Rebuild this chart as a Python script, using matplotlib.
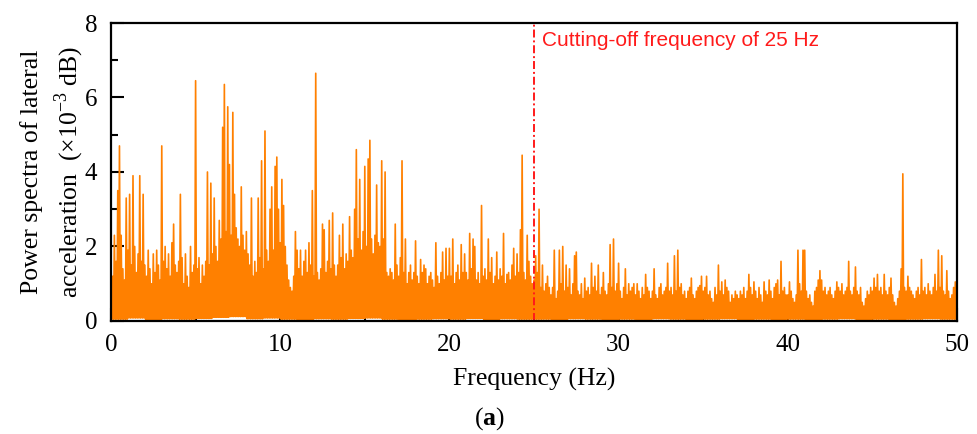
import numpy as np
import matplotlib.pyplot as plt

plt.rcParams['font.family'] = ['Liberation Serif', 'DejaVu Serif']
plt.rcParams['mathtext.fontset'] = 'custom'
plt.rcParams['mathtext.rm'] = 'Liberation Serif'
plt.rcParams['mathtext.bf'] = 'Liberation Serif:bold'

# peak power in each 0.1 Hz bin (x1e-3 dB), one row per Hz
psd_peaks = [
    [1.7, 1.2, 2.3, 1.6, 3.5, 4.7, 2.3, 1.4, 1.1, 3.3],     # 0 Hz
    [1.9, 3.4, 1.5, 3.9, 2.0, 1.3, 1.8, 3.9, 1.6, 3.4],
    [1.5, 1.2, 1.9, 1.4, 1.0, 1.8, 1.3, 1.9, 1.5, 1.1],
    [4.7, 1.6, 2.0, 1.4, 1.8, 1.2, 2.1, 2.6, 1.5, 1.3],
    [1.6, 3.4, 1.7, 1.0, 1.8, 1.2, 0.9, 2.0, 1.3, 1.5],
    [6.45, 1.4, 1.7, 1.0, 1.5, 1.2, 1.6, 4.0, 1.5, 3.7],    # 5 Hz
    [1.8, 3.3, 2.0, 1.6, 2.7, 2.2, 5.2, 6.35, 2.4, 5.75],
    [4.2, 2.3, 5.6, 3.4, 2.5, 2.2, 2.0, 3.6, 2.3, 1.9],
    [2.4, 1.8, 1.5, 3.3, 1.2, 1.6, 1.3, 3.3, 1.7, 4.3],
    [1.4, 5.1, 1.9, 1.6, 3.0, 3.6, 1.9, 4.15, 4.4, 3.0],
    [2.1, 3.8, 3.1, 2.0, 1.5, 1.1, 0.9, 0.8, 1.2, 2.4],     # 10 Hz
    [1.9, 1.4, 1.9, 1.2, 1.6, 1.9, 1.3, 2.1, 1.5, 3.5],
    [1.2, 6.65, 1.3, 1.1, 1.4, 2.6, 2.45, 1.3, 1.6, 2.7],
    [1.4, 2.9, 1.5, 1.2, 1.5, 2.3, 1.7, 2.6, 1.4, 1.8],
    [1.6, 2.8, 1.9, 1.7, 3.0, 4.6, 2.2, 3.8, 1.9, 2.4],
    [4.15, 2.0, 4.35, 4.85, 2.2, 1.8, 2.3, 3.65, 2.1, 2.0],  # 15 Hz
    [4.3, 2.2, 4.0, 1.3, 1.2, 1.4, 1.3, 1.1, 2.6, 1.5],
    [1.2, 1.7, 4.3, 1.3, 2.2, 1.0, 1.3, 1.5, 1.1, 1.3],
    [2.15, 1.2, 1.0, 1.65, 1.3, 1.5, 1.4, 1.0, 1.2, 1.3],
    [1.1, 0.9, 2.1, 1.2, 1.0, 1.3, 1.85, 1.1, 1.95, 1.2],
    [1.95, 1.2, 2.2, 1.0, 1.3, 1.5, 1.1, 2.05, 1.3, 1.8],   # 20 Hz
    [1.3, 1.1, 2.35, 1.4, 2.2, 2.0, 1.1, 1.3, 1.0, 3.1],
    [1.2, 1.4, 1.1, 2.2, 1.3, 1.7, 1.0, 1.2, 1.85, 1.1],
    [1.4, 1.2, 2.35, 1.0, 1.25, 1.3, 1.1, 1.5, 1.95, 1.2],
    [1.8, 1.3, 2.45, 4.45, 1.3, 1.1, 2.3, 1.6, 1.2, 1.0],
    [1.1, 1.75, 1.3, 3.0, 0.9, 1.5, 0.8, 1.0, 1.2, 0.9],    # 25 Hz
    [0.7, 0.9, 1.9, 0.6, 0.8, 1.9, 1.0, 2.0, 0.8, 1.5],
    [0.9, 1.4, 0.7, 1.0, 1.75, 1.85, 0.8, 0.7, 1.0, 0.6],
    [1.15, 0.8, 0.9, 0.7, 1.55, 0.9, 1.2, 0.8, 1.5, 0.7],
    [0.9, 1.3, 0.8, 0.7, 1.0, 2.05, 0.9, 2.2, 0.8, 1.0],
    [1.55, 0.8, 0.6, 0.9, 1.4, 0.7, 1.0, 0.8, 0.9, 1.0],    # 30 Hz
    [0.7, 1.0, 0.8, 0.6, 0.9, 0.7, 1.25, 0.9, 0.8, 0.6],
    [0.8, 1.4, 0.7, 0.6, 0.9, 1.0, 0.7, 0.8, 0.9, 1.55],
    [0.8, 0.9, 0.7, 1.75, 0.8, 1.9, 0.9, 1.0, 0.7, 0.8],
    [0.6, 0.8, 0.9, 1.15, 0.7, 0.6, 0.8, 0.9, 0.95, 1.2],
    [0.8, 0.9, 1.2, 0.7, 0.8, 0.6, 0.5, 0.9, 0.7, 1.5],     # 35 Hz
    [0.8, 1.05, 0.7, 1.1, 0.9, 0.8, 0.5, 0.7, 0.6, 0.8],
    [0.7, 0.6, 0.8, 0.7, 0.9, 0.6, 0.8, 1.25, 0.9, 0.7],
    [1.05, 0.8, 0.6, 0.9, 0.7, 0.5, 1.05, 0.8, 0.7, 1.1],
    [0.8, 0.6, 0.9, 1.0, 1.1, 0.7, 1.6, 0.8, 0.9, 0.7],
    [0.7, 1.05, 0.8, 0.6, 0.5, 0.7, 1.9, 1.0, 0.8, 1.9],    # 40 Hz
    [1.9, 0.8, 0.6, 0.7, 0.5, 0.4, 0.8, 0.9, 1.1, 1.35],
    [1.1, 0.8, 0.9, 0.7, 0.8, 0.9, 0.7, 0.6, 0.8, 1.05],
    [0.9, 0.8, 1.0, 0.7, 0.8, 0.9, 1.6, 0.8, 0.7, 0.9],
    [1.45, 0.8, 0.7, 0.9, 0.5, 0.4, 0.6, 0.8, 0.7, 0.9],
    [0.8, 1.15, 0.9, 1.25, 0.8, 0.9, 0.7, 1.25, 0.8, 0.7],  # 45 Hz
    [0.9, 1.15, 0.7, 0.5, 0.4, 0.6, 0.8, 1.4, 3.95, 0.9],
    [0.8, 1.2, 0.9, 0.8, 0.7, 0.6, 0.8, 0.9, 0.7, 1.65],
    [0.8, 0.9, 0.7, 1.0, 0.8, 0.7, 0.9, 1.25, 0.8, 1.9],
    [0.9, 1.75, 0.8, 0.7, 1.35, 0.8, 0.6, 0.7, 0.9, 1.05],
]

# lowest level reached between neighbouring bins, one value per Hz
psd_troughs = [
    0.05, 0.08, 0.04, 0.06, 0.05, 0.07, 0.10, 0.12, 0.06, 0.08,
    0.05, 0.04, 0.06, 0.05, 0.07, 0.08, 0.05, 0.04, 0.05, 0.06,
    0.05, 0.07, 0.04, 0.06, 0.05, 0.05, 0.04, 0.06, 0.05, 0.04,
    0.05, 0.04, 0.06, 0.05, 0.04, 0.05, 0.06, 0.04, 0.05, 0.04,
    0.05, 0.04, 0.05, 0.06, 0.04, 0.05, 0.04, 0.05, 0.06, 0.05,
]

cutoff_hz = 25
bin_hz = 0.1

peaks = np.array(psd_peaks).ravel()
lows = np.repeat(psd_troughs, len(psd_peaks[0]))
f_bins = np.arange(peaks.size) * bin_hz

# interleave peaks and troughs so the trace swings like a raw spectrum
freq = np.empty(2 * peaks.size)
power = np.empty(2 * peaks.size)
freq[0::2] = f_bins
freq[1::2] = f_bins + bin_hz / 2
power[0::2] = peaks
power[1::2] = lows

fig = plt.figure(figsize=(9.78, 4.34), dpi=100)
ax = fig.add_axes([0.1135, 0.2604, 0.865, 0.6866])

ax.plot(freq, power, color='#ff8000', lw=1.2)
ax.axvline(cutoff_hz, color='#ff1a1a', lw=1.4, ls=(0, (4.1, 1.5, 1.0, 1.5)))
ax.text(cutoff_hz + 0.45, 7.37, 'Cutting-off frequency of %d Hz' % cutoff_hz,
        color='#ff1a1a', fontsize=15, family='Liberation Sans',
        ha='left', va='baseline')

ax.set_xlim(0, 50)
ax.set_ylim(0, 8)
ax.set_xticks([0, 10, 20, 30, 40, 50])
ax.set_xticks([5, 15, 25, 35, 45], minor=True)
ax.set_yticks([0, 2, 4, 6, 8])
ax.set_yticks([1, 3, 5, 7], minor=True)
ax.tick_params(which='both', direction='in', width=1.5, labelsize=18)
ax.tick_params(axis='x', pad=9.5)
ax.tick_params(axis='y', pad=10)
ax.tick_params(which='major', length=9.5)
ax.tick_params(which='minor', length=5)
for s in ax.spines.values():
    s.set_linewidth(1.6)

ax.set_xlabel('Frequency (Hz)', fontsize=18.5)
ax.xaxis.set_label_coords(0.5, -0.195)
ax.xaxis.label.set_va('center')

fig.text(53 / 978, 1 - 172 / 434,
         'Power spectra of lateral\nacceleration  (\u00d710$^{-3}$ dB)',
         rotation=90, ha='center', va='center', multialignment='center',
         fontsize=18.5, linespacing=1.4)
fig.text(0.5, 1 - 419 / 434, '($\\mathbf{a}$)', ha='center', va='center',
         fontsize=18.5)

fig.savefig('out.png', dpi=100)
